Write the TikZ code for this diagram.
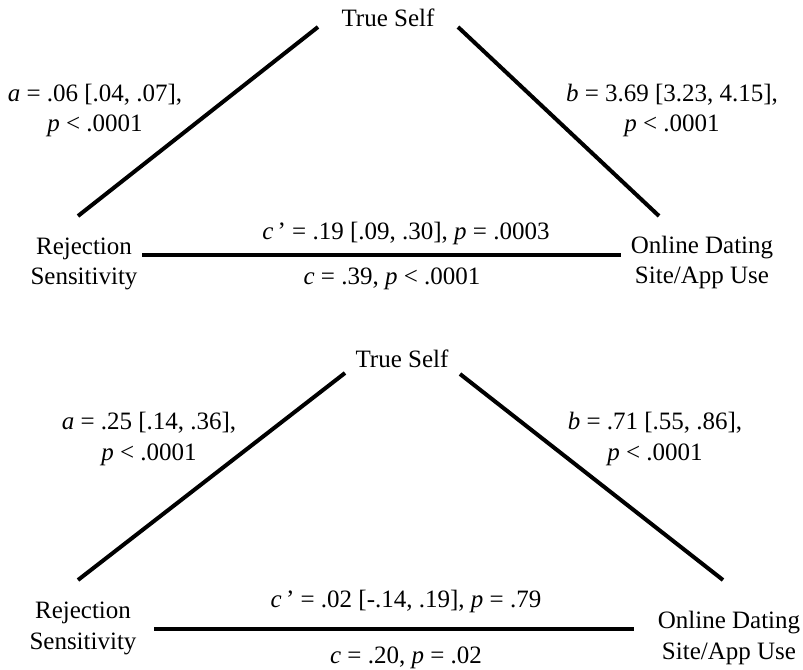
\documentclass[tikz,border=0pt]{standalone}
\usepackage{fontspec}
\setmainfont{Liberation Serif}
\usetikzlibrary{positioning}

\tikzset{
  lbl/.style={inner sep=0pt, anchor=base, align=center,
    font=\fontsize{18.75pt}{23pt}\selectfont},
  link/.style={line width=3pt}
}

\begin{document}
\begin{tikzpicture}[x=0.75pt,y=-0.75pt]
    \useasboundingbox (0,0) rectangle (803,670);

    % Top model: the variables
    \node[lbl] (self1) at (388,27) {True Self};
    \node[lbl] (rej1) at (84,285) {Rejection\\Sensitivity};
    \node[lbl] (use1) at (702,284) {Online Dating\\Site/App Use};

    % Top model: path ends
    \coordinate (rejA1) at (78,216);
    \coordinate (selfL1) at (318,27);
    \coordinate (selfR1) at (458,27);
    \coordinate (useB1) at (659,216);
    \coordinate (rejC1) at (142,255);
    \coordinate (useC1) at (621,255);

    % Top model: the paths
    \draw[link] (rejA1) -- (selfL1);
    \draw[link] (selfR1) -- (useB1);
    \draw[link] (rejC1) -- (useC1);

    % Top model: coefficients
    \node[lbl] (a1) at (95,132) {\textit{a} = .06 [.04, .07],\\\textit{p} < .0001};
    \node[lbl] (b1) at (672,132) {\textit{b} = 3.69 [3.23, 4.15],\\\textit{p} < .0001};
    \node[lbl] (cp1) at (406,240) {\textit{c}\,’ = .19 [.09, .30], \textit{p} = .0003};
    \node[lbl] (c1) at (392,285) {\textit{c} = .39, \textit{p} < .0001};

    % Bottom model: the variables
    \node[lbl] (self2) at (402,367) {True Self};
    \node[lbl] (rej2) at (83,649) {Rejection\\Sensitivity};
    \node[lbl] (use2) at (729,659) {Online Dating\\Site/App Use};

    % Bottom model: path ends
    \coordinate (rejA2) at (78,580);
    \coordinate (selfL2) at (345,373);
    \coordinate (selfR2) at (460,374);
    \coordinate (useB2) at (723,580);
    \coordinate (rejC2) at (154,629);
    \coordinate (useC2) at (634,629);

    % Bottom model: the paths
    \draw[link] (rejA2) -- (selfL2);
    \draw[link] (selfR2) -- (useB2);
    \draw[link] (rejC2) -- (useC2);

    % Bottom model: coefficients
    \node[lbl] (a2) at (149,460) {\textit{a} = .25 [.14, .36],\\\textit{p} < .0001};
    \node[lbl] (b2) at (655,460) {\textit{b} = .71 [.55, .86],\\\textit{p} < .0001};
    \node[lbl] (cp2) at (406,607) {\textit{c}\,’ = .02 [-.14, .19], \textit{p} = .79};
    \node[lbl] (c2) at (406,663) {\textit{c} = .20, \textit{p} = .02};
\end{tikzpicture}
\end{document}
